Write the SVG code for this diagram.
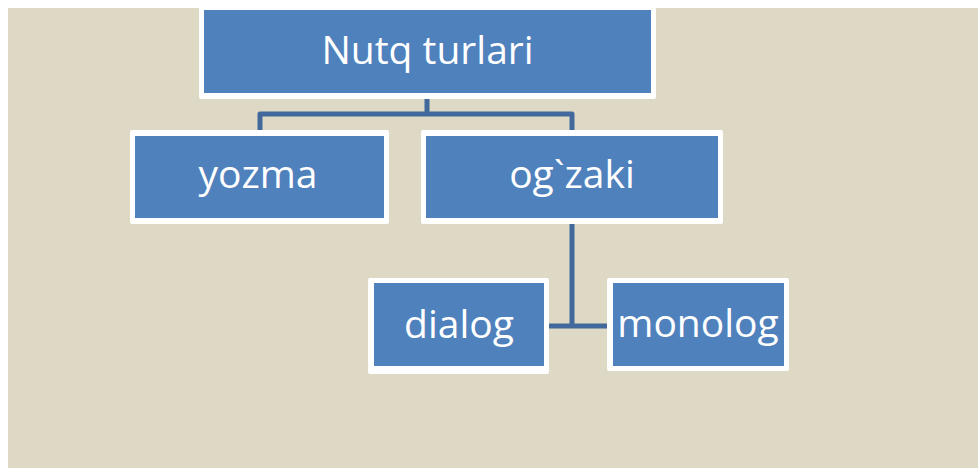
<svg xmlns="http://www.w3.org/2000/svg" width="978" height="468" viewBox="0 0 978 468">
<style>
.frame{fill:#FFFFFF}
.box{fill:#4F81BD}
.lbl{font-family:"Open Sans","Liberation Sans",sans-serif;font-size:39px;fill:#FFFFFF;text-anchor:middle}
.conn{fill:none;stroke:#41699C;stroke-width:5;stroke-linejoin:round}
</style>
<rect x="0" y="0" width="978" height="468" fill="#FFFFFF"/>
<rect x="8" y="8" width="970" height="460" fill="#DED9C4"/>
<g id="connectors">
<path class="conn" d="M427 98 V114 M260 130 V114 H572 V130"/>
<path class="conn" d="M572 224 V326 M549 326 H607"/>
</g>
<g id="node-nutq">
<rect class="frame" x="199" y="4" width="457" height="95" rx="2"/>
<rect class="box" x="204" y="10" width="447" height="83"/>
<text class="lbl" x="427.5" y="64">Nutq turlari</text>
</g>
<g id="node-yozma">
<rect class="frame" x="130" y="130" width="259" height="94" rx="2"/>
<rect class="box" x="135" y="136" width="249" height="82"/>
<text class="lbl" x="258" y="188">yozma</text>
</g>
<g id="node-ogzaki">
<rect class="frame" x="421" y="130" width="302" height="94" rx="2"/>
<rect class="box" x="426" y="136" width="292" height="82"/>
<text class="lbl" x="572" y="188">og`zaki</text>
</g>
<g id="node-dialog">
<rect class="frame" x="368" y="278" width="181" height="96" rx="2"/>
<rect class="box" x="374" y="283" width="170" height="83"/>
<text class="lbl" x="459" y="338">dialog</text>
</g>
<g id="node-monolog">
<rect class="frame" x="607" y="278" width="182" height="93" rx="2"/>
<rect class="box" x="613" y="283" width="171" height="83"/>
<text class="lbl" x="698" y="337">monolog</text>
</g>
</svg>
